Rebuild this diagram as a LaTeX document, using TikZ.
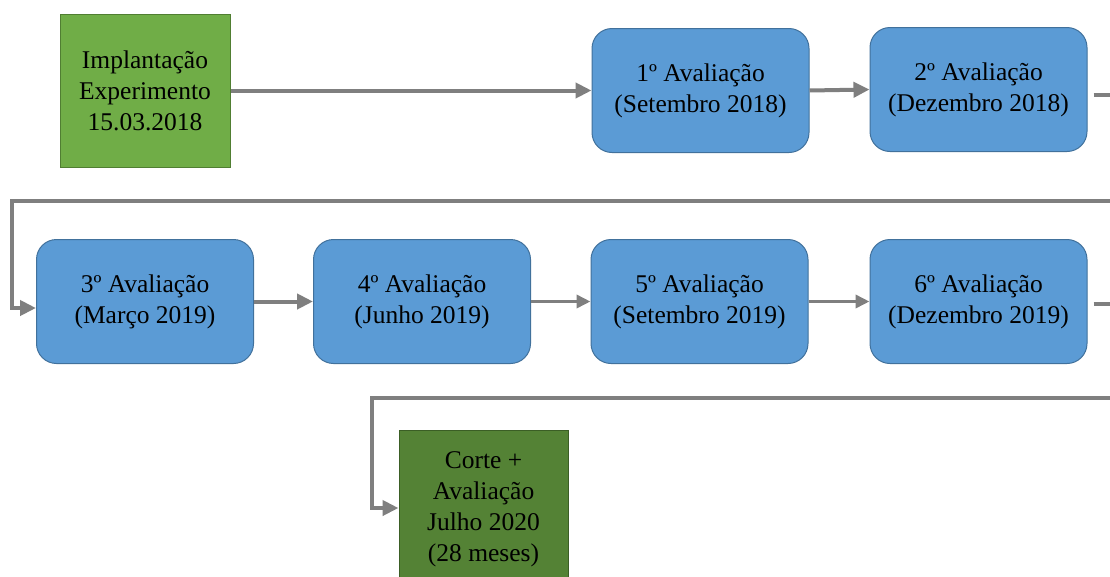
\documentclass[tikz,border=0pt]{standalone}
\usepackage{fontspec}
\setmainfont{Liberation Serif}
\usetikzlibrary{arrows.meta}
\definecolor{bluefill}{HTML}{5B9BD5}
\definecolor{blueline}{HTML}{41719C}
\definecolor{greenfill}{HTML}{70AD47}
\definecolor{greenline}{HTML}{507E32}
\definecolor{dgreenfill}{HTML}{548235}
\definecolor{dgreenline}{HTML}{3B5E25}
\definecolor{arrowgray}{HTML}{7F7F7F}
\tikzset{
  txt/.style={align=center, inner sep=0pt, font=\fontsize{25.5}{31}\selectfont, text=black},
  bluebox/.style={txt, draw=blueline, line width=1pt, fill=bluefill, rounded corners=20pt, minimum width=217pt, minimum height=124pt},
  greenbox/.style={txt, draw=greenline, line width=1pt, fill=greenfill, minimum width=170pt, minimum height=153pt},
  dgreenbox/.style={txt, draw=dgreenline, line width=1pt, fill=dgreenfill, minimum width=169pt, minimum height=158pt},
  conn/.style={draw=arrowgray, line width=4pt, -{Triangle[length=16pt,width=15pt]}},
  connthin/.style={draw=arrowgray, line width=3.5pt, -{Triangle[length=14pt,width=13pt]}},
  plain/.style={draw=arrowgray, line width=4pt}
}
\begin{document}
\begin{tikzpicture}[x=1pt,y=-1pt]
\useasboundingbox (0,0) rectangle (1110,576);
\fill[white] (0,0) rectangle (1110,576);
% nodes
\node[greenbox] (g1) at (145,90.5) {Implantação\\Experimento\\15.03.2018};
\node[bluebox] (b1) at (700.5,90.5) {1º Avaliação\\(Setembro 2018)};
\node[bluebox] (b2) at (978.5,89.5) {2º Avaliação\\(Dezembro 2018)};
\node[bluebox] (b3) at (145,301.5) {3º Avaliação\\(Março 2019)};
\node[bluebox] (b4) at (422,301.5) {4º Avaliação\\(Junho 2019)};
\node[bluebox] (b5) at (699.5,301.5) {5º Avaliação\\(Setembro 2019)};
\node[bluebox] (b6) at (978.5,301.5) {6º Avaliação\\(Dezembro 2019)};
\node[dgreenbox] (g2) at (483.5,509) {Corte +\\Avaliação\\Julho 2020\\(28 meses)};
% coordinates
\coordinate (e2) at (1113,95);
\coordinate (r1a) at (1113,201);
\coordinate (r1b) at (12,201);
\coordinate (r1c) at (12,308);
\coordinate (e6) at (1113,304);
\coordinate (r2a) at (1113,398);
\coordinate (r2b) at (372,398);
\coordinate (r2c) at (372,508);
% connectors
\draw[conn] (g1.east) -- (b1.west);
\draw[conn] (b1.east) -- (b2.west);
\draw[plain] ([xshift=6pt]b2.east |- e2) -- (e2);
\draw[conn] (r1a) -- (r1b) -- (r1c) -- (b3.west |- r1c);
\draw[conn] (b3.east) -- (b4.west);
\draw[connthin] (b4.east) -- (b5.west);
\draw[connthin] (b5.east) -- (b6.west);
\draw[plain] ([xshift=6pt]b6.east |- e6) -- (e6);
\draw[conn] (r2a) -- (r2b) -- (r2c) -- (g2.west |- r2c);
\end{tikzpicture}
\end{document}
